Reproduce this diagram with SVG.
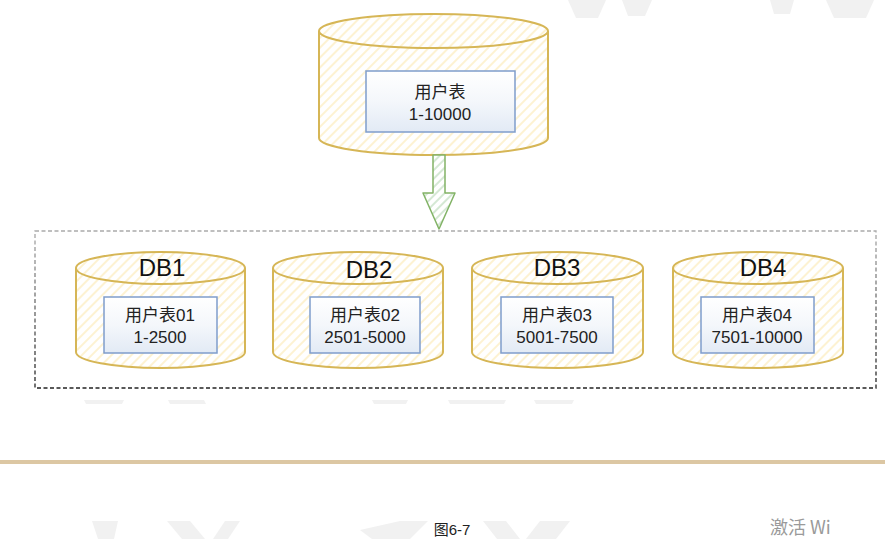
<svg xmlns="http://www.w3.org/2000/svg" width="885" height="539" viewBox="0 0 885 539">
  <defs>
    <pattern id="hatchY" patternUnits="userSpaceOnUse" width="7" height="7" patternTransform="rotate(45)">
      <rect width="7" height="7" fill="#ffffff"/>
      <line x1="1" y1="0" x2="1" y2="7" stroke="#fdf2d2" stroke-width="2"/>
    </pattern>
    <pattern id="hatchG" patternUnits="userSpaceOnUse" width="6" height="6" patternTransform="rotate(45)">
      <rect width="6" height="6" fill="#ffffff"/>
      <line x1="1" y1="0" x2="1" y2="6" stroke="#d5e8d4" stroke-width="2"/>
    </pattern>
    <linearGradient id="glass" x1="0" y1="0" x2="0" y2="1">
      <stop offset="0" stop-color="#ffffff"/>
      <stop offset="0.5" stop-color="#f4f7fb"/>
      <stop offset="1" stop-color="#e2eaf5"/>
    </linearGradient>
    <linearGradient id="dashGrad" gradientUnits="userSpaceOnUse" x1="0" y1="231" x2="0" y2="388">
      <stop offset="0" stop-color="#aaaaaa"/>
      <stop offset="1" stop-color="#222222"/>
    </linearGradient>
    <style>
      .cyl { fill: url(#hatchY); stroke: #d6b656; stroke-width: 2; }
      .cyltop { fill: none; stroke: #d6b656; stroke-width: 2; }
      .box { fill: url(#glass); stroke: #7f9dcb; stroke-width: 1.5; }
      .t { font-family: "Liberation Sans", "Noto Sans CJK SC", sans-serif; font-size: 17px; fill: #222222; text-anchor: middle; }
      .db { font-family: "Liberation Sans", "Noto Sans CJK SC", sans-serif; font-size: 24px; fill: #111111; text-anchor: middle; }
      .wm { fill: #f1f1f1; }
    </style>
  </defs>

  <rect width="885" height="539" fill="#ffffff"/>

  <!-- faint watermark shapes -->
  <g id="watermark">
    <polygon class="wm" points="568,0 606,0 598,18 576,18"/>
    <polygon class="wm" points="622,0 652,0 645,16 628,16"/>
    <polygon class="wm" points="770,0 794,0 790,14 774,14"/>
    <polygon class="wm" points="826,0 874,0 866,18 834,18"/>
    <polygon class="wm" points="84,400 124,400 122,404 86,404"/>
    <polygon class="wm" points="168,400 204,400 206,404 170,404"/>
    <polygon class="wm" points="372,400 408,400 406,404 374,404"/>
    <polygon class="wm" points="448,400 506,400 504,404 450,404"/>
    <polygon class="wm" points="534,400 574,400 572,404 536,404"/>
    <polygon class="wm" points="92,521 118,521 114,539 98,539"/>
    <polygon class="wm" points="167,521 190,521 205,539 182,539"/>
    <polygon class="wm" points="225,521 240,521 228,539 213,539"/>
    <polygon class="wm" points="360,530 400,521 428,521 410,539 372,539"/>
    <polygon class="wm" points="483,521 506,521 520,539 497,539"/>
    <polygon class="wm" points="540,521 570,521 556,539 526,539"/>
  </g>

  <!-- source table cylinder -->
  <g id="node-src">
    <path class="cyl" d="M319,31 A114.5,17 0 0 1 548,31 V138 A114.5,17 0 0 1 319,138 Z"/>
    <path class="cyltop" d="M319,31 A114.5,17 0 0 0 548,31"/>
    <rect class="box" x="366" y="71" width="149" height="61"/>
    <text class="t" x="440" y="98">用户表</text>
    <text class="t" x="440" y="120">1-10000</text>
  </g>

  <!-- connectors -->
  <g id="connectors">
    <path d="M433,155 H445 V193 H455 L439,229 L423,193 H433 Z" fill="url(#hatchG)" stroke="#82b366" stroke-width="1.5" stroke-linejoin="round"/>
  </g>

  <!-- dashed container -->
  <g id="node-group">
    <rect x="35" y="231" width="841" height="157" fill="none" stroke="url(#dashGrad)" stroke-width="1.3" stroke-dasharray="4 2.5"/>
  </g>

  <g id="node-db1">
    <path class="cyl" d="M76,268 A84.5,16 0 0 1 245,268 V352 A84.5,16 0 0 1 76,352 Z"/>
    <path class="cyltop" d="M76,268 A84.5,16 0 0 0 245,268"/>
    <text class="db" x="162" y="276">DB1</text>
    <rect class="box" x="104" y="297" width="113" height="56"/>
    <text class="t" x="160" y="321">用户表01</text>
    <text class="t" x="160" y="343">1-2500</text>
  </g>

  <g id="node-db2">
    <path class="cyl" d="M273,268 A85,16 0 0 1 443,268 V352 A85,16 0 0 1 273,352 Z"/>
    <path class="cyltop" d="M273,268 A85,16 0 0 0 443,268"/>
    <text class="db" x="369" y="278">DB2</text>
    <rect class="box" x="310" y="297" width="110" height="56"/>
    <text class="t" x="365" y="321">用户表02</text>
    <text class="t" x="365" y="343">2501-5000</text>
  </g>

  <g id="node-db3">
    <path class="cyl" d="M472,268 A85.5,16 0 0 1 643,268 V352 A85.5,16 0 0 1 472,352 Z"/>
    <path class="cyltop" d="M472,268 A85.5,16 0 0 0 643,268"/>
    <text class="db" x="557" y="276">DB3</text>
    <rect class="box" x="501" y="297" width="112" height="56"/>
    <text class="t" x="557" y="321">用户表03</text>
    <text class="t" x="557" y="343">5001-7500</text>
  </g>

  <g id="node-db4">
    <path class="cyl" d="M673,268 A85,16 0 0 1 843,268 V352 A85,16 0 0 1 673,352 Z"/>
    <path class="cyltop" d="M673,268 A85,16 0 0 0 843,268"/>
    <text class="db" x="763" y="276">DB4</text>
    <rect class="box" x="701" y="297" width="113" height="56"/>
    <text class="t" x="757" y="321">用户表04</text>
    <text class="t" x="757" y="343">7501-10000</text>
  </g>

  <!-- page rule -->
  <rect x="0" y="460" width="885" height="4" fill="#dcc7a3"/>

  <text x="452" y="535" font-family="Liberation Sans, 'Noto Sans CJK SC', sans-serif" font-size="15" fill="#222222" text-anchor="middle">图6-7</text>
  <text x="770" y="534" font-family="'Noto Sans CJK SC', sans-serif" font-size="18" fill="#9a9a9a">激活 Wi</text>
</svg>
